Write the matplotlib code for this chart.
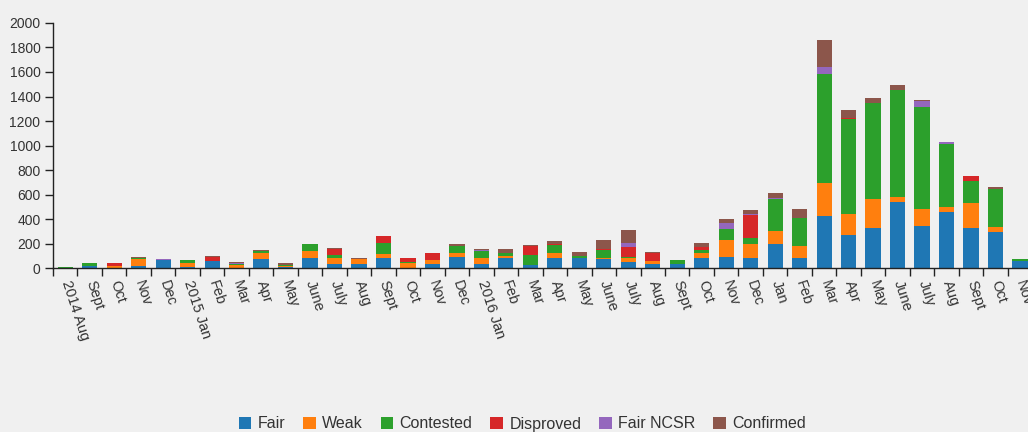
import matplotlib
matplotlib.use("Agg")
import matplotlib.pyplot as plt
import numpy as np

months = ["2014 Aug", "Sept", "Oct", "Nov", "Dec", "2015 Jan", "Feb", "Mar", "Apr", "May",
          "June", "July", "Aug", "Sept", "Oct", "Nov", "Dec", "2016 Jan", "Feb", "Mar",
          "Apr", "May", "June", "July", "Aug", "Sept", "Oct", "Nov", "Dec", "Jan",
          "Feb", "Mar", "Apr", "May", "June", "July", "Aug", "Sept", "Oct", "Nov"]

fair = [2, 15, 3, 22, 68, 8, 58, 3, 78, 10,
        85, 34, 34, 83, 3, 34, 95, 34, 83, 25,
        83, 80, 75, 55, 36, 34, 83, 96, 85, 202,
        88, 428, 273, 328, 542, 344, 460, 328, 295, 61]
weak = [0, 5, 12, 50, 0, 32, 5, 25, 50, 10,
        60, 52, 38, 33, 40, 33, 28, 46, 15, 3,
        40, 5, 12, 30, 20, 3, 41, 136, 117, 98,
        95, 269, 169, 236, 41, 138, 41, 203, 38, 0]
contested = [8, 20, 0, 13, 0, 25, 0, 10, 10, 8,
             55, 22, 5, 94, 5, 0, 55, 57, 23, 80,
             67, 18, 65, 10, 0, 28, 24, 86, 48, 261,
             226, 886, 774, 782, 874, 834, 516, 182, 312, 11]
disproved = [0, 0, 27, 0, 2, 0, 30, 0, 0, 0,
             0, 52, 0, 55, 38, 54, 0, 0, 0, 70,
             5, 0, 5, 76, 65, 0, 27, 0, 183, 0,
             0, 0, 10, 0, 0, 0, 0, 38, 0, 0]
fair_ncsr = [0, 0, 0, 0, 3, 0, 0, 5, 0, 0,
             0, 0, 0, 0, 0, 0, 0, 10, 0, 0,
             0, 0, 0, 32, 0, 0, 0, 50, 8, 16,
             0, 54, 0, 0, 0, 45, 16, 0, 0, 0]
confirmed = [0, 3, 0, 10, 4, 2, 4, 10, 10, 17,
             2, 6, 11, 0, 2, 4, 20, 9, 35, 11,
             27, 32, 75, 108, 8, 2, 35, 30, 36, 38,
             78, 225, 63, 41, 39, 12, 0, 0, 14, 0]

series_names = ["Fair", "Weak", "Contested", "Disproved", "Fair NCSR", "Confirmed"]
series_values = [fair, weak, contested, disproved, fair_ncsr, confirmed]
colors = ["#1f77b4", "#ff7f0e", "#2ca02c", "#d62728", "#9467bd", "#8c564b"]

bg = "#f0f0f0"
plt.rcParams["font.family"] = ["Liberation Sans", "DejaVu Sans"]

fig = plt.figure(figsize=(10.28, 4.32), dpi=100, facecolor=bg)
W, H = 1028.0, 432.0
left_px, right_px = 53.0, 53.0 + 40 * 24.48
top_px, base_px = 22.9, 268.3
ax = fig.add_axes([left_px / W, 1 - base_px / H, (right_px - left_px) / W, (base_px - top_px) / H])
ax.set_facecolor(bg)

x = np.arange(len(months))
bottom = np.zeros(len(months))
for name, vals, c in zip(series_names, series_values, colors):
    v = np.array(vals, dtype=float)
    ax.bar(x, v, bottom=bottom, width=0.62, color=c, label=name, linewidth=0)
    bottom += v

ax.set_xlim(-0.5, len(months) - 0.5)
ax.set_ylim(0, 2000)
ax.set_yticks(np.arange(0, 2001, 200))
ax.tick_params(axis="y", length=6, width=1, colors="#222222", labelcolor="#333333", labelsize=10, pad=3)

ax.set_xticks(x)
ax.set_xticklabels(months)
ax.set_xticks(np.arange(-0.5, len(months), 1.0), minor=True)
ax.tick_params(axis="x", which="major", length=0, labelsize=10.5, labelcolor="#333333", pad=9)
ax.tick_params(axis="x", which="minor", length=6, width=1, color="#222222")
for lab in ax.get_xticklabels():
    lab.set_rotation(-72)
    lab.set_rotation_mode("anchor")
    lab.set_ha("left")
    lab.set_va("center")

for s in ["top", "right"]:
    ax.spines[s].set_visible(False)
for s in ["left", "bottom"]:
    ax.spines[s].set_color("#222222")
    ax.spines[s].set_linewidth(1)

handles, labels = ax.get_legend_handles_labels()
fig.legend(handles, labels, loc="center", bbox_to_anchor=(0.508, 1 - 424 / H), ncol=6,
           frameon=False, fontsize=11.5, handlelength=0.8, handleheight=0.8,
           handletextpad=0.4, columnspacing=1.1, labelcolor="#333333")

fig.savefig("out.png", dpi=100, facecolor=bg)
